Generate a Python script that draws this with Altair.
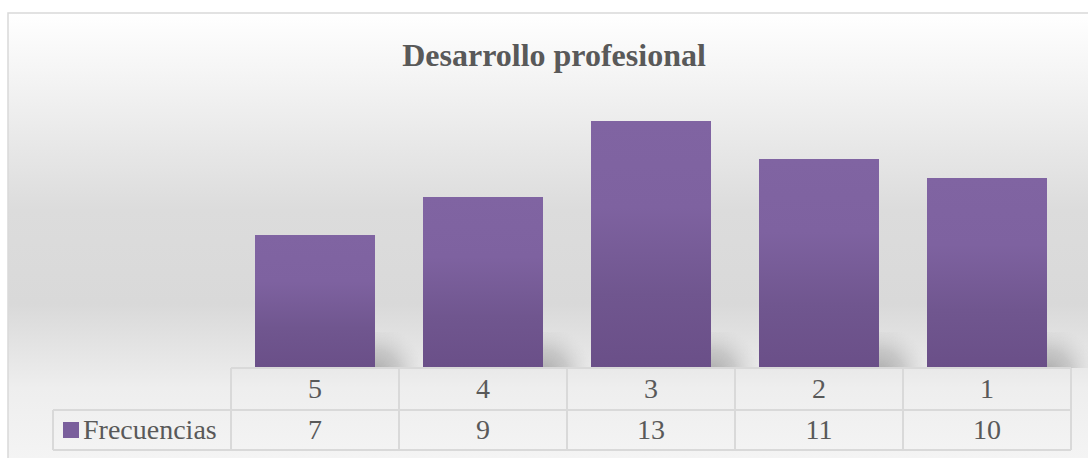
import altair as alt
import pandas as pd

# ---- data ----
categories = ["5", "4", "3", "2", "1"]
frecuencias = [7, 9, 13, 11, 10]
series_name = "Frecuencias"
title_text = "Desarrollo profesional"

df = pd.DataFrame({"cat": categories, "val": frecuencias})
one = pd.DataFrame({"k": [0]})
lbl = pd.DataFrame({"name": [series_name]})
ttl = pd.DataFrame({"t": [title_text]})

W, H = 840, 266
FONT = "Liberation Serif"
TXT = "#595959"
GRID = "#d9d9d9"

x_enc = alt.X("cat:N", sort=categories, axis=None,
              scale=alt.Scale(paddingInner=0, paddingOuter=0))
y_enc = alt.Y("val:Q", axis=None, scale=alt.Scale(domain=[0, 14], nice=False))

bg_grad = alt.Gradient(
    gradient="linear", x1=0, x2=0, y1=0, y2=1,
    stops=[
        alt.GradientStop(color="#ffffff", offset=0.0),
        alt.GradientStop(color="#f3f3f3", offset=0.15),
        alt.GradientStop(color="#dcdcdc", offset=0.42),
        alt.GradientStop(color="#d9d9d9", offset=0.62),
        alt.GradientStop(color="#eeeeee", offset=0.80),
        alt.GradientStop(color="#f6f6f6", offset=1.0),
    ],
)
background = alt.Chart(one).mark_rect(
    fill=bg_grad, stroke="#d9d9d9", strokeWidth=1.5
).encode(
    x=alt.value(-223), x2=alt.value(880), y=alt.value(-89), y2=alt.value(380)
)

shadow_grad = alt.Gradient(
    gradient="radial", x1=0, y1=1, r1=0, x2=0, y2=1, r2=1,
    stops=[
        alt.GradientStop(color="rgba(160,160,160,0.9)", offset=0.0),
        alt.GradientStop(color="rgba(175,175,175,0.55)", offset=0.5),
        alt.GradientStop(color="rgba(210,210,210,0.0)", offset=1.0),
    ],
)
shadows = alt.Chart(df).mark_bar(size=50, xOffset=85, fill=shadow_grad).encode(
    x=x_enc, y=alt.value(230), y2=alt.value(H)
)

bar_grad = alt.Gradient(
    gradient="linear", x1=0, x2=0, y1=0, y2=1,
    stops=[
        alt.GradientStop(color="#8064a2", offset=0.0),
        alt.GradientStop(color="#7e62a0", offset=0.35),
        alt.GradientStop(color="#70568f", offset=0.7),
        alt.GradientStop(color="#6a4f88", offset=1.0),
    ],
)
bars = alt.Chart(df).mark_bar(size=120, fill=bar_grad).encode(x=x_enc, y=y_enc)

# ---- data table below the plot ----
vlines = alt.Chart(df).mark_rule(color=GRID, strokeWidth=2, xOffset=-84).encode(
    x=x_enc, y=alt.value(H), y2=alt.value(348)
)
rline = alt.Chart(one).mark_rule(color=GRID, strokeWidth=2).encode(
    x=alt.value(W), y=alt.value(H), y2=alt.value(348)
)
lline = alt.Chart(one).mark_rule(color=GRID, strokeWidth=2).encode(
    x=alt.value(-178), y=alt.value(308), y2=alt.value(348)
)
h1 = alt.Chart(one).mark_rule(color=GRID, strokeWidth=2).encode(
    x=alt.value(0), x2=alt.value(W), y=alt.value(H)
)
h2 = alt.Chart(one).mark_rule(color=GRID, strokeWidth=2).encode(
    x=alt.value(-178), x2=alt.value(W), y=alt.value(308)
)
h3 = alt.Chart(one).mark_rule(color=GRID, strokeWidth=2).encode(
    x=alt.value(-178), x2=alt.value(W), y=alt.value(348)
)

cat_text = alt.Chart(df).mark_text(
    font=FONT, fontSize=28, color=TXT, baseline="middle"
).encode(x=x_enc, y=alt.value(288), text="cat:N")
val_text = alt.Chart(df).mark_text(
    font=FONT, fontSize=28, color=TXT, baseline="middle"
).encode(x=x_enc, y=alt.value(329), text="val:Q")

legend_sq = alt.Chart(one).mark_rect(fill="#7a5f9c").encode(
    x=alt.value(-168), x2=alt.value(-152), y=alt.value(320), y2=alt.value(336)
)
legend_txt = alt.Chart(lbl).mark_text(
    font=FONT, fontSize=28, color=TXT, baseline="middle", align="left"
).encode(x=alt.value(-148), y=alt.value(329), text="name:N")

title = alt.Chart(ttl).mark_text(
    font=FONT, fontSize=32, fontWeight="bold", color=TXT,
    baseline="alphabetic", align="center"
).encode(x=alt.value(323), y=alt.value(-36), text="t:N")

chart = alt.layer(
    background, shadows, bars, vlines, rline, lline, h1, h2, h3,
    cat_text, val_text, legend_sq, legend_txt, title
).properties(
    width=W, height=H,
    autosize=alt.AutoSizeParams(type="none"),
    padding={"left": 231, "top": 102, "right": 17, "bottom": 90},
    background="white",
).configure_view(stroke=None)

chart.save("out.html", embed_options={"renderer": "svg", "actions": False})
